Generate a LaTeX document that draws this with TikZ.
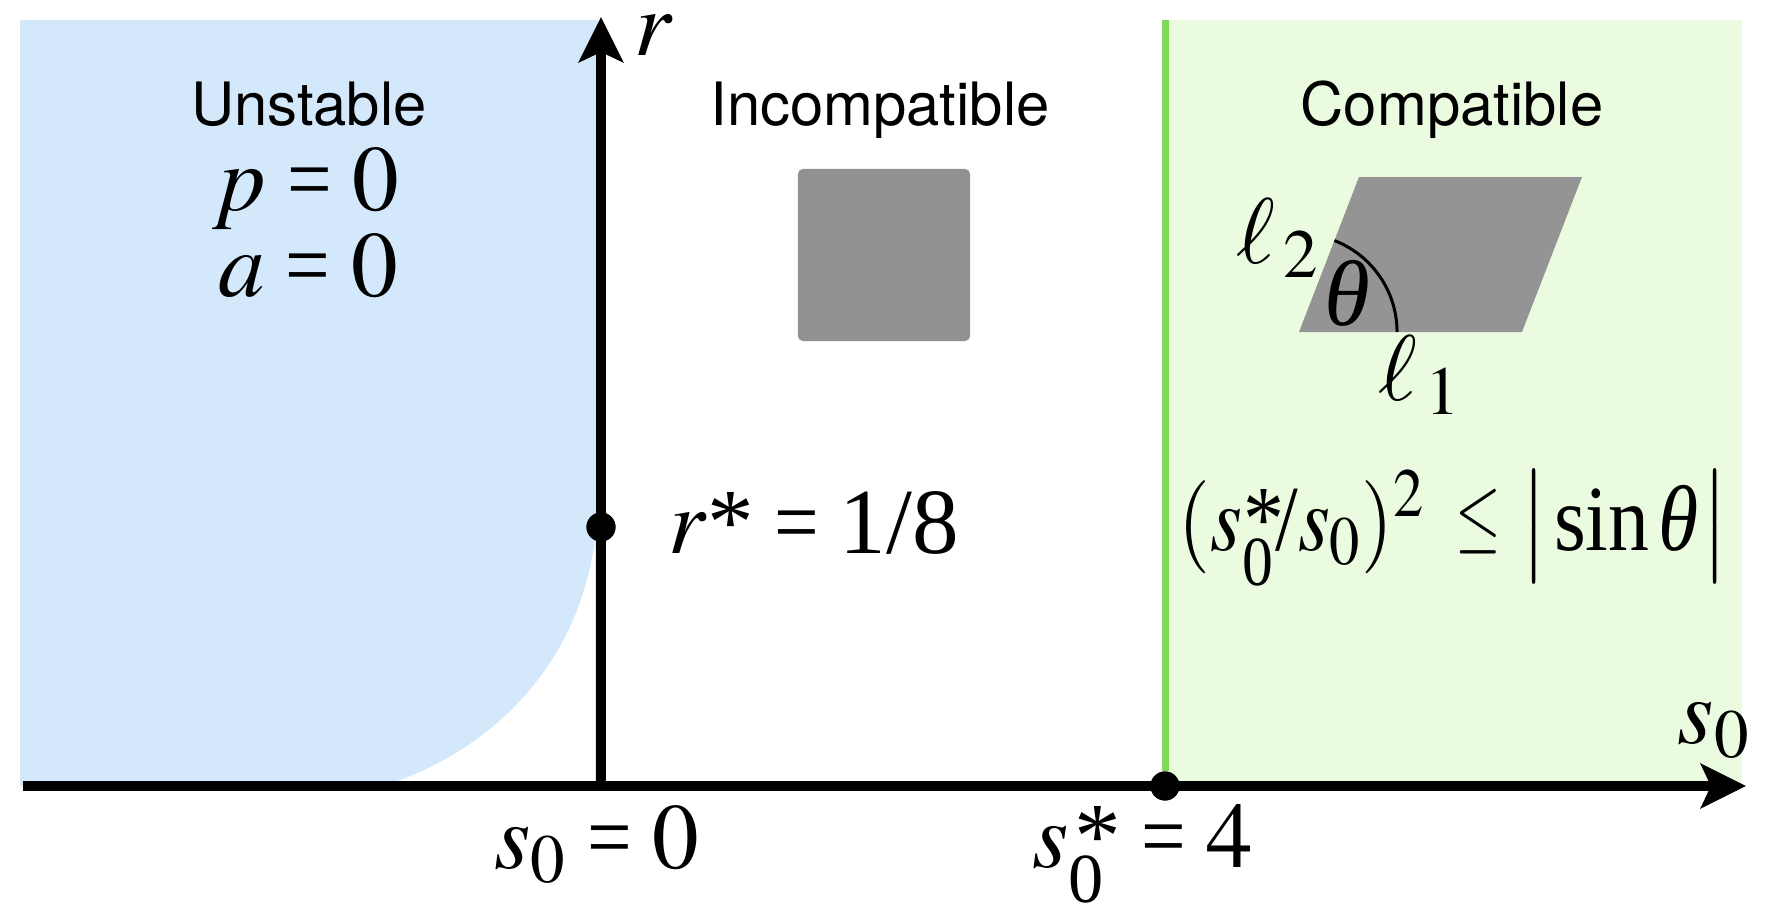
\documentclass[tikz,border=0pt]{standalone}
\usepackage{mathptmx}
\usepackage{graphicx}
\usepackage[no-math]{fontspec}
\setmainfont{Liberation Serif}
\newfontfamily\hvfont{TeX Gyre Heros}
\usetikzlibrary{arrows.meta}
\definecolor{bluefill}{HTML}{D3E9FB}
\definecolor{greenfill}{HTML}{EBFBE0}
\definecolor{greenline}{HTML}{7ED957}
\definecolor{graysq}{HTML}{919191}
\definecolor{graypar}{HTML}{949494}
\newcommand{\tstar}{\hbox{\rmfamily *}}
\newcommand{\req}{\mathrel{\hbox{\scalebox{0.85}[1]{\rmfamily =}}}}
\newcommand{\szs}{s\rlap{\raisebox{-10pt}{\fontsize{20}{20}\selectfont 0}}\kern1.5pt\tstar}
\newcommand{\szsf}{s\rlap{\raisebox{-10pt}{\fontsize{20}{20}\selectfont 0}}\kern0.5pt\tstar\kern-3pt}
\newcommand{\ith}{\hbox{\rmfamily\itshape θ}}
\begin{document}
\begin{tikzpicture}[x=0.01cm,y=-0.01cm,
  axisline/.style={line width=2.85pt},
  axisarrow/.style={-{Stealth[length=0.45cm,width=0.44cm,inset=0.1cm]}},
  dot/.style={circle,fill=black,minimum size=0.29cm,inner sep=0pt},
  sanslabel/.style={font=\hvfont\fontsize{17}{20}\selectfont,inner sep=0pt,anchor=base},
  mathlabel/.style={font=\fontsize{26.5}{30}\selectfont,inner sep=0pt,anchor=base}]
\useasboundingbox (0,0) rectangle (1768,912);
% regions
\fill[bluefill] (20,20) rectangle (598,786);
\fill[white] (378,787) .. controls (460,765) and (575,690) .. (595,540) -- (595,787) -- cycle;
\fill[greenfill] (1165,20) rectangle (1742,786);
% coordinates
\coordinate (xstart) at (23,786);
\coordinate (xend) at (1746,786);
\coordinate (ybot) at (601,791);
\coordinate (ytop) at (601,17);
\coordinate (gtop) at (1165,20);
% dots
\node[dot] (sstar) at (1165,786) {};
\node[dot] (rstar) at (601,527) {};
% green boundary
\draw[greenline,line width=0.07cm] (gtop) -- (sstar);
% axes
\draw[axisline,axisarrow] (xstart) -- (xend);
\draw[axisline,axisarrow] (ybot) -- (ytop);
\node[dot] at (sstar) {};
\node[dot] at (rstar) {};
% axis labels
\node[mathlabel] (rlab) at (654,55) {$r$};
\node[mathlabel] (slab) at (1714,743) {$s_0$};
\node[mathlabel] (s0zero) at (597,868) {$s_0 \req 0$};
\node[mathlabel,anchor=base west] (s0four) at (1032,867) {$\szs \req 4$};
\node[mathlabel,anchor=base west] (rstarlab) at (668,553) {$r\tstar \req \hbox{1/8}$};
% region titles
\node[sanslabel] (unst) at (309,125) {Unstable};
\node[mathlabel] (peq) at (306,210) {$p \req 0$};
\node[mathlabel] (aeq) at (308,297) {$a \req 0$};
\node[sanslabel] (incomp) at (880,125) {Incompatible};
\node[sanslabel] (comp) at (1452,125) {Compatible};
% square
\node[fill=graysq,rounded corners=0.05cm,minimum width=1.72cm,minimum height=1.72cm,inner sep=0pt] (sq) at (884,255) {};
% parallelogram
\coordinate (pbl) at (1299,332);
\coordinate (pbr) at (1522,332);
\coordinate (ptr) at (1582,177);
\coordinate (ptl) at (1359,177);
\fill[graypar] (pbl) -- (pbr) -- (ptr) -- (ptl) -- cycle;
\draw[line width=0.03cm] ([xshift=0.98cm]pbl) arc[start angle=0,end angle=68.8,radius=0.98cm];
\node[mathlabel] (theta) at (1347,325) {$\ith$};
\node[mathlabel] (l2) at (1278,263) {$\ell_{\,2}$};
\node[mathlabel] (l1) at (1420,400) {$\ell_{\,1}$};
% condition
\node[mathlabel,anchor=base west] (cond) at (1178,550) {\resizebox{5.5cm}{\height}{$(\szsf\hbox{/}s_0)^2\hspace{0.35cm}\raisebox{2pt}{\scalebox{0.72}[0.9]{$\le$}}\hspace{0.22cm}\big|\kern2pt\hbox{sin}\kern3pt\ith\kern1pt\big|$}};
\end{tikzpicture}
\end{document}
